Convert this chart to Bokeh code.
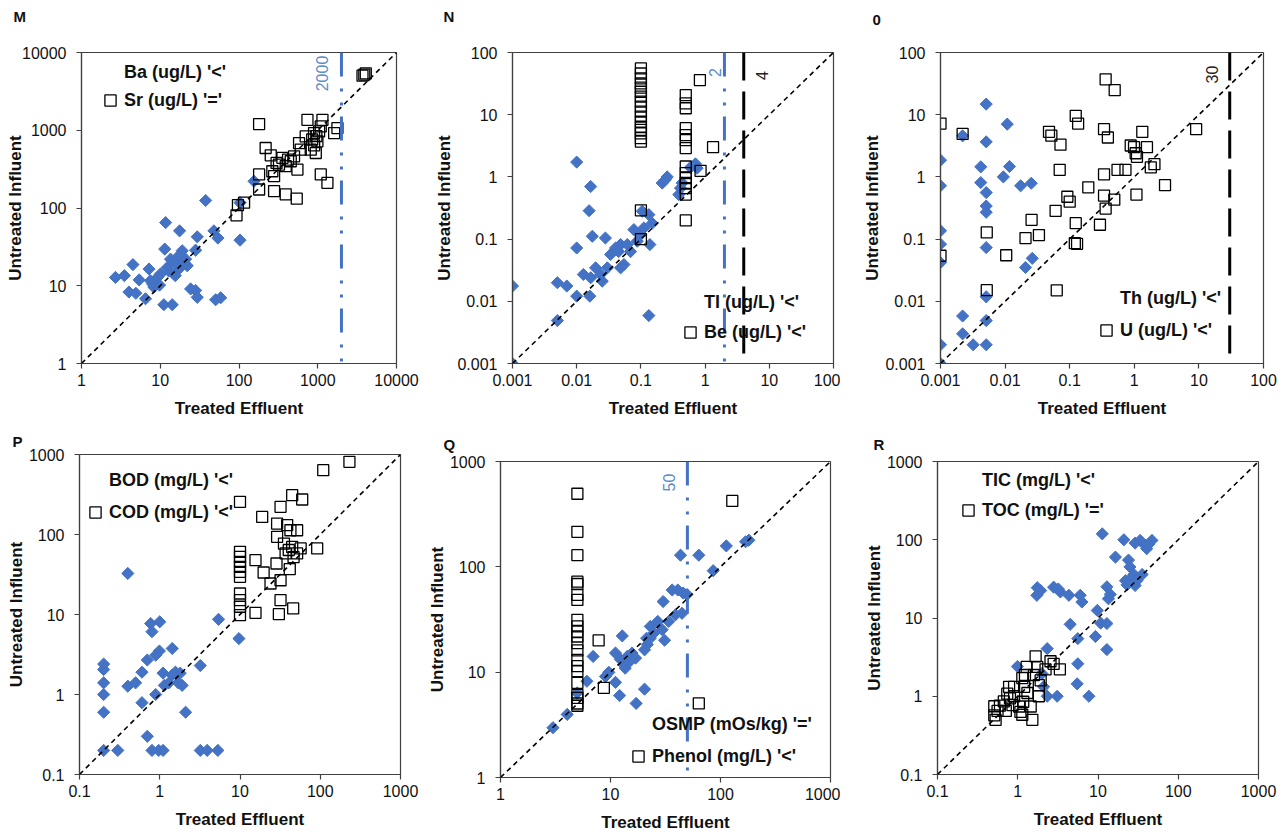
import math

from bokeh.embed import file_html
from bokeh.layouts import column, row
from bokeh.models import (CDSView, ColumnDataSource, FixedTicker, IndexFilter, Label, Legend,
                          LegendItem, Slope, Span, Title)
from bokeh.plotting import figure
from bokeh.resources import INLINE

FONT = "Liberation Sans"
BLUE = "#4472C4"
LIMIT_BLUE = "#4472C4"
LIMIT_TEXT_BLUE = "#5B8BCB"
AXIS_COLOR = "#404040"

# ---------------- M: Ba / Sr (ug/L) ----------------
m_ticks = [1, 10, 100, 1000, 10000]
m_tick_labels = ["1", "10", "100", "1000", "10000"]
ba_treated = [2.7, 3.5, 4.5, 4.0, 4.9, 5.4, 6.5, 7.2, 7.5, 8.3, 9.2, 11.1, 14.2, 11.7, 11.4,
              17.6, 12.3, 13.5, 14.9, 16.4, 19.0, 21, 18.1, 10.1, 22, 28.1, 29.5, 24.3, 28.1,
              29.5, 37.7, 48, 54, 50.5, 58.5, 103, 103, 155, 8.0, 9.8, 12.8, 15.5, 17, 20]
ba_influent = [12.8, 13.5, 18.7, 8.3, 8.0, 11.9, 6.8, 16.4, 11.6, 9.6, 12.8, 5.7, 5.7, 64.9,
               29.6, 50.8, 17.2, 22.0, 14.2, 19.0, 28.2, 22.0, 17.2, 14.2, 18.1, 28.7, 42.6,
               9.1, 8.7, 7.1, 125, 50.8, 41, 6.6, 7.0, 38.6, 117, 221, 10.5, 10.2, 15.5, 13.5,
               24, 20]
sr_treated = [93, 97, 116, 180, 218, 180, 180, 253, 265, 279, 322, 356, 392, 454, 500, 552,
              279, 392, 541, 579, 608, 740, 703, 815, 898, 990, 944, 1040, 1147, 1092, 1092,
              1327, 1614, 1778, 3700, 4074, 3900, 850, 900, 960, 300, 420]
sr_influent = [80.6, 109, 117, 1200, 591, 270, 173, 476, 297, 257, 362, 441, 345, 399, 462,
               312, 165, 150, 132, 685, 563, 1362, 834, 563, 920, 720, 510, 966, 1362, 1120,
               270, 211, 920, 1066, 5030, 5380, 5200, 760, 640, 840, 380, 420]

# ---------------- N: Tl / Be (ug/L) ----------------
n_ticks = [0.001, 0.01, 0.1, 1, 10, 100]
n_tick_labels = ["0.001", "0.01", "0.1", "1", "10", "100"]
tl_treated = [0.001, 0.001, 0.005, 0.007, 0.005, 0.01, 0.01, 0.01, 0.016, 0.0165, 0.0156,
              0.0175, 0.0127, 0.0165, 0.0197, 0.025, 0.028, 0.03, 0.0236, 0.0337, 0.0403,
              0.0483, 0.0483, 0.0544, 0.045, 0.0613, 0.069, 0.0778, 0.0877, 0.099, 0.111,
              0.105, 0.138, 0.133, 0.15, 0.133, 0.215, 0.257, 0.24, 0.39, 0.414, 0.44, 0.59,
              0.708, 0.75]
tl_influent = [0.001, 0.0176, 0.0199, 0.0176, 0.0049, 0.072, 0.0121, 1.73, 0.0121, 0.70,
               0.286, 0.111, 0.027, 0.0239, 0.0345, 0.0211, 0.104, 0.0345, 0.027, 0.0565,
               0.072, 0.0817, 0.0345, 0.039, 0.063, 0.0817, 0.063, 0.142, 0.0925, 0.118,
               0.151, 0.28, 0.0817, 0.247, 0.18, 0.0059, 0.796, 1.0, 0.9, 0.52, 0.66, 0.8,
               1.42, 1.62, 1.38]
be_treated = [0.1, 0.1, 0.1, 0.1, 0.1, 0.1, 0.1, 0.1, 0.1, 0.1, 0.1, 0.1, 0.1, 0.1, 0.1,
              0.1, 0.1, 0.1, 0.1, 0.5, 0.5, 0.5, 0.5, 0.5, 0.5, 0.5, 0.5, 0.5, 0.5, 0.5, 0.5,
              0.5, 0.5, 0.83, 1.33, 0.85]
be_influent = [55.4, 46, 38.3, 31.8, 27.2, 23.4, 19.5, 16.2, 13.5, 11.2, 9.3, 7.7, 6.4, 5.7,
               5.0, 4.2, 3.7, 0.29, 0.1, 20.7, 15.2, 12.7, 6.1, 4.7, 3.9, 2.9, 1.47, 1.15,
               0.96, 0.8, 0.66, 0.52, 0.2, 36, 3.0, 1.25]

# ---------------- 0: Th / U (ug/L) ----------------
o_ticks = [0.001, 0.01, 0.1, 1, 10, 100]
o_tick_labels = ["0.001", "0.01", "0.1", "1", "10", "100"]
th_treated = [0.001, 0.001, 0.001, 0.001, 0.001, 0.001, 0.001, 0.0022, 0.0022, 0.0022,
              0.0032, 0.0042, 0.0042, 0.0051, 0.0051, 0.0051, 0.0051, 0.0051, 0.0051, 0.0051,
              0.0051, 0.0051, 0.0094, 0.0108, 0.0117, 0.0174, 0.0254, 0.0207, 0.0263]
th_influent = [0.001, 0.002, 0.136, 0.083, 0.042, 0.72, 1.86, 0.0058, 0.003, 4.57, 0.002,
               1.45, 0.81, 14.8, 3.66, 0.56, 0.34, 0.27, 0.073, 0.0118, 0.0049, 0.002, 1.0,
               7.05, 1.47, 0.72, 0.79, 0.035, 0.049]
u_treated = [0.001, 0.001, 0.0022, 0.0052, 0.0052, 0.0104, 0.0207, 0.0257, 0.0334, 0.0478,
             0.052, 0.072, 0.0605, 0.07, 0.063, 0.092, 0.1, 0.124, 0.135, 0.124, 0.12, 0.13,
             0.194, 0.294, 0.34, 0.39, 0.36, 0.497, 0.34, 0.34, 0.36, 0.49, 0.55, 0.73, 0.88,
             0.99, 1.05, 1.1, 1.33, 1.57, 1.8, 2.05, 1.08, 2.99, 9.06]
u_influent = [7.2, 0.054, 4.9, 0.128, 0.0151, 0.055, 0.104, 0.204, 0.116, 5.3, 4.6, 3.3,
              0.285, 1.3, 0.015, 0.48, 0.4, 9.6, 7.2, 0.18, 0.086, 0.084, 0.68, 0.17, 5.85,
              4.3, 37, 24.8, 1.1, 0.5, 0.31, 0.43, 1.3, 1.3, 3.2, 3.0, 2.4, 2.1, 5.3, 3.0,
              1.42, 1.6, 0.52, 0.74, 5.85]

# ---------------- P: BOD / COD (mg/L) ----------------
p_ticks = [0.1, 1, 10, 100, 1000]
p_tick_labels = ["0.1", "1", "10", "100", "1000"]
bod_treated = [0.2, 0.3, 0.2, 0.2, 0.2, 0.2, 0.2, 0.4, 0.4, 0.5, 0.6, 0.6, 0.7, 0.7, 0.77,
               0.8, 0.8, 1.0, 0.89, 0.99, 0.89, 0.97, 1.1, 1.1, 1.14, 1.43, 1.43, 1.3, 1.57,
               1.7, 1.8, 1.9, 2.1, 3.2, 3.2, 3.9, 5.3, 5.4, 9.7]
bod_influent = [0.2, 0.2, 0.6, 1.0, 1.4, 2.05, 2.4, 32.6, 1.27, 1.4, 1.9, 0.79, 0.3, 2.7,
                7.7, 6.1, 0.2, 8.1, 3.1, 3.5, 1.0, 0.2, 0.2, 1.85, 1.3, 3.76, 1.75, 1.4, 1.9,
                1.4, 1.85, 1.3, 0.6, 2.3, 0.2, 0.2, 0.2, 8.7, 5.0]
cod_treated = [10, 10, 10, 10, 10, 10, 10, 10, 10, 10, 10, 15.6, 15.6, 18.9, 19.7, 24, 29,
               29, 32, 28.5, 32, 30.5, 32, 35.3, 37, 38.7, 40.5, 41.7, 42.5, 44.7, 46, 44.7,
               46.5, 51.5, 59.6, 57, 51.5, 91.6, 109, 231]
cod_influent = [256, 60.7, 52.6, 45.5, 39.4, 34.2, 29.6, 18.3, 15.1, 12.5, 9.8, 47.7, 10.5,
                166, 33.5, 24.4, 137, 93.6, 222, 43.4, 26.8, 10.1, 15.1, 77, 58, 131, 64, 37,
                113, 310, 11.9, 70, 52, 113, 274, 67, 58, 67, 637, 810]

# ---------------- Q: OSMP (mOs/kg) / Phenol (mg/L) ----------------
q_ticks = [1, 10, 100, 1000]
q_tick_labels = ["1", "10", "100", "1000"]
osmp_treated = [3.0, 4.04, 4.98, 6.1, 6.95, 9.0, 9.66, 11.1, 12.1, 11.1, 12.3, 12.8, 13.2,
                14.2, 14.7, 15.7, 16.9, 13.6, 17.1, 20.4, 20.4, 21.3, 21.6, 23, 23, 24.8,
                26.9, 29.5, 30.1, 31, 33.8, 36.4, 38.9, 40.9, 44.7, 45.8, 43.3, 49.6, 63.5,
                85.8, 113, 181, 169]
osmp_influent = [2.97, 3.97, 6.36, 8.2, 14.1, 9.1, 9.97, 8.0, 6.0, 15.2, 13.2, 22.1, 11.8,
                 14.1, 12.4, 15.2, 13.6, 10.9, 5.05, 6.9, 16.3, 21, 18.3, 21, 27.2, 23.5,
                 30.3, 25.3, 46.8, 20.1, 30.3, 60.3, 35, 60.3, 36.2, 56.4, 129, 54.6, 129,
                 91.9, 158, 179, 173]
phenol_treated = [5, 5, 5, 5, 5, 5, 5, 5, 5, 5, 5, 5, 5, 5, 5, 5, 5, 5, 5, 5, 5, 7.8, 8.7,
                  63.5, 128]
phenol_influent = [494, 215, 129, 72.3, 68.7, 54.1, 48.5, 31.4, 27.2, 24.3, 21.8, 18.9, 16.1,
                   13.1, 11.4, 10.2, 7.9, 6.1, 5.7, 5.04, 4.8, 20.0, 7.1, 5.05, 422]

# ---------------- R: TIC / TOC (mg/L) ----------------
r_ticks = [0.1, 1, 10, 100, 1000]
r_tick_labels = ["0.1", "1", "10", "100", "1000"]
tic_treated = [0.99, 1.75, 1.73, 1.93, 2.33, 2.0, 2.1, 2.33, 3.1, 2.8, 3.4, 3.2, 4.34, 4.5,
               6.0, 6.3, 5.6, 5.6, 5.5, 7.7, 9.3, 9.8, 10.8, 12.9, 12.9, 11.3, 12.9, 13.5,
               14.2, 16.5, 21, 22, 23, 24, 25, 26.5, 28, 29, 30.5, 35.5, 29, 33.5, 38.6, 40.5,
               47, 43]
tic_influent = [2.4, 24.4, 19.5, 22.4, 4.06, 1.95, 1.32, 1.0, 1.0, 24.8, 21.5, 23.5, 19.5,
                8.3, 19.5, 16, 5.45, 2.6, 1.44, 1.0, 5.8, 12.5, 8.6, 8.5, 3.95, 119, 25,
                17.6, 20, 60, 100, 30, 26.5, 55, 45, 33, 36, 26, 30, 36, 90.7, 98, 85, 77,
                98, 88]
toc_treated = [0.51, 0.51, 0.53, 0.56, 0.6, 0.67, 0.71, 0.74, 0.78, 0.8, 0.86, 0.9, 1.04,
               1.08, 1.14, 1.17, 1.2, 1.23, 1.32, 1.29, 1.45, 1.52, 1.59, 1.67, 1.75, 1.83,
               1.93, 2.22, 2.56, 3.35, 2.8, 0.9, 1.14, 1.83]
toc_influent = [0.745, 0.57, 0.5, 0.65, 0.76, 0.86, 0.65, 1.08, 1.32, 0.94, 0.77, 1.0, 0.74,
                0.63, 0.58, 0.85, 1.32, 1.87, 1.1, 2.37, 0.74, 0.5, 1.87, 3.24, 2.37, 1.39,
                1.6, 2.2, 2.8, 2.2, 2.6, 1.32, 1.7, 1.0]

DASH_DOT_DOT = "24 12 3 11 3 11"
LONG_DASH = "28 11"

# box = (width, height, border_left, border_right, border_top, border_bottom)
# letter = (text, x offset from the frame, standoff, use a spacer line under it)
PANELS = [
    dict(letter=("M", -68, 14, True), ticks=m_ticks, tick_labels=m_tick_labels,
         dia=(ba_treated, ba_influent, "Ba (ug/L) '<'"),
         sq=(sr_treated, sr_influent, "Sr (ug/L) '='"),
         box=(420, 428, 81, 24, 51, 65), legend_at=(15, 249), legend_gap=0,
         ylabel_standoff=-6,
         limits=[(2000, LIMIT_BLUE, LIMIT_TEXT_BLUE, DASH_DOT_DOT, -19, 290)]),
    dict(letter=("N", -69, 14, True), ticks=n_ticks, tick_labels=n_tick_labels,
         dia=(tl_treated, tl_influent, "Tl (ug/L) '<'"),
         sq=(be_treated, be_influent, "Be (ug/L) '<'"),
         box=(420, 428, 92, 7, 51, 65), legend_at=(164, 17), legend_gap=2,
         ylabel_standoff=0,
         limits=[(2, LIMIT_BLUE, LIMIT_TEXT_BLUE, DASH_DOT_DOT, -9, 291),
                 (4, "black", "#222222", LONG_DASH, 18, 288)]),
    dict(letter=("0", -68, 14, True), ticks=o_ticks, tick_labels=o_tick_labels,
         dia=(th_treated, th_influent, "Th (ug/L) '<'"),
         sq=(u_treated, u_influent, "U (ug/L) '<'"),
         box=(446, 428, 100, 23, 52, 65), legend_at=(152, 19), legend_gap=4,
         ylabel_standoff=0,
         limits=[(30, "black", "#222222", LONG_DASH, -18, 289)]),
    dict(letter=("P", -67, 6, False), ticks=p_ticks, tick_labels=p_tick_labels,
         dia=(bod_treated, bod_influent, "BOD (mg/L) '<'"),
         sq=(cod_treated, cod_influent, "COD (mg/L) '<'"),
         box=(420, 406, 79, 20, 26, 60), legend_at=(2, 248), legend_gap=4,
         ylabel_standoff=0, limits=[]),
    dict(letter=("Q", -57, 13, False), ticks=q_ticks, tick_labels=q_tick_labels,
         dia=(osmp_treated, osmp_influent, "OSMP (mOs/kg) '='"),
         sq=(phenol_treated, phenol_influent, "Phenol (mg/L) '<'"),
         box=(420, 406, 80, 10, 33, 56), legend_at=(124, 7), legend_gap=4,
         ylabel_standoff=0,
         limits=[(50, LIMIT_BLUE, LIMIT_TEXT_BLUE, DASH_DOT_DOT, -18, 295)]),
    dict(letter=("R", -64, 13, False), ticks=r_ticks, tick_labels=r_tick_labels,
         dia=(tic_treated, tic_influent, "TIC (mg/L) '<'"),
         sq=(toc_treated, toc_influent, "TOC (mg/L) '='"),
         box=(446, 406, 97, 28, 33, 60), legend_at=(17, 250), legend_gap=2,
         ylabel_standoff=0, limits=[]),
]


def style_axis(ax, ticks, tick_labels, label_standoff, title_standoff):
    ax.ticker = FixedTicker(ticks=ticks, minor_ticks=[])
    ax.major_label_overrides = {t: s for t, s in zip(ticks, tick_labels)}
    ax.axis_line_color = AXIS_COLOR
    ax.axis_line_width = 1.2
    ax.major_tick_line_color = AXIS_COLOR
    ax.major_tick_line_width = 1.2
    ax.major_tick_out = 5
    ax.major_tick_in = 0
    ax.minor_tick_line_color = None
    ax.major_label_text_font = FONT
    ax.major_label_text_font_size = "16px"
    ax.major_label_text_color = "#111111"
    ax.major_label_standoff = label_standoff
    ax.axis_label_text_font = FONT
    ax.axis_label_text_font_size = "17px"
    ax.axis_label_text_font_style = "bold"
    ax.axis_label_text_color = "#111111"
    ax.axis_label_standoff = title_standoff


def letter_title(text, offset, standoff):
    return Title(text=text, align="left", vertical_align="top", offset=offset,
                 standoff=standoff, text_font=FONT, text_font_size="15px",
                 text_font_style="bold", text_color="#111111")


def build_panel(cfg):
    w, h, bl, br, bt, bb = cfg["box"]
    ticks = cfg["ticks"]
    lo, hi = ticks[0], ticks[-1]
    p = figure(width=w, height=h, x_axis_type="log", y_axis_type="log",
               x_range=(lo, hi), y_range=(lo, hi),
               x_axis_label="Treated Effluent", y_axis_label="Untreated Influent",
               title=None, output_backend="svg", toolbar_location=None,
               min_border_left=bl, min_border_right=br,
               min_border_top=bt, min_border_bottom=bb)
    p.xgrid.visible = False
    p.ygrid.visible = False
    p.outline_line_color = AXIS_COLOR
    p.outline_line_width = 1.2
    p.background_fill_color = "white"
    p.border_fill_color = "white"

    # panel letter in the top-left corner
    text, offset, standoff, spacer = cfg["letter"]
    if spacer:
        p.add_layout(Title(text=" ", standoff=0, text_font=FONT, text_font_size="15px"),
                     "above")
    p.add_layout(letter_title(text, offset, standoff), "above")

    style_axis(p.xaxis[0], ticks, cfg["tick_labels"], 5, 10)
    style_axis(p.yaxis[0], ticks, cfg["tick_labels"], 10, cfg["ylabel_standoff"])

    # filled diamonds (rotated squares) and open squares
    dx, dy, dlabel = cfg["dia"]
    sx, sy, slabel = cfg["sq"]
    dia_src = ColumnDataSource(dict(x=dx, y=dy))
    p.scatter("x", "y", source=dia_src, marker="square", angle=math.pi / 4, size=8.6,
              fill_color=BLUE, line_color=BLUE, line_width=1)
    squares = p.scatter(sx, sy, marker="square", size=11, fill_alpha=0,
                        line_color="black", line_width=1.3)
    # legend swatch for the diamond series (nothing drawn in the plot area)
    dia_key = p.scatter("x", "y", source=dia_src, view=CDSView(filter=IndexFilter([])),
                        marker="diamond", fill_color=BLUE, line_color=BLUE)

    # 1:1 line
    p.add_layout(Slope(gradient=1, y_intercept=0, line_color="black",
                       line_dash="5 4", line_width=1.6))

    # regulatory limit lines with their values
    for value, lcolor, tcolor, dash, dx_off, ly in cfg["limits"]:
        p.add_layout(Span(location=value, dimension="height", line_color=lcolor,
                          line_width=3, line_dash=dash))
        p.add_layout(Label(x=value, y=ly, y_units="screen", text=str(value),
                           angle=math.pi / 2, x_offset=dx_off, text_align="center",
                           text_baseline="middle", text_font=FONT,
                           text_font_size="16px", text_color=tcolor))

    legend = Legend(items=[LegendItem(label=dlabel, renderers=[dia_key]),
                           LegendItem(label=slabel, renderers=[squares])],
                    location=cfg["legend_at"], glyph_width=28, glyph_height=28,
                    label_standoff=0, spacing=cfg["legend_gap"], padding=0, margin=0,
                    border_line_color=None, background_fill_alpha=0,
                    label_text_font=FONT, label_text_font_size="18px",
                    label_text_font_style="bold", label_text_color="#111111")
    p.add_layout(legend)
    return p


figs = [build_panel(cfg) for cfg in PANELS]
# each panel sits in its own box so that frames keep their own offsets
layout = column(row(*[column(f) for f in figs[:3]]),
                row(*[column(f) for f in figs[3:]]))

with open("out.html", "w") as f:
    f.write(file_html(layout, INLINE, "Treated effluent vs untreated influent"))
